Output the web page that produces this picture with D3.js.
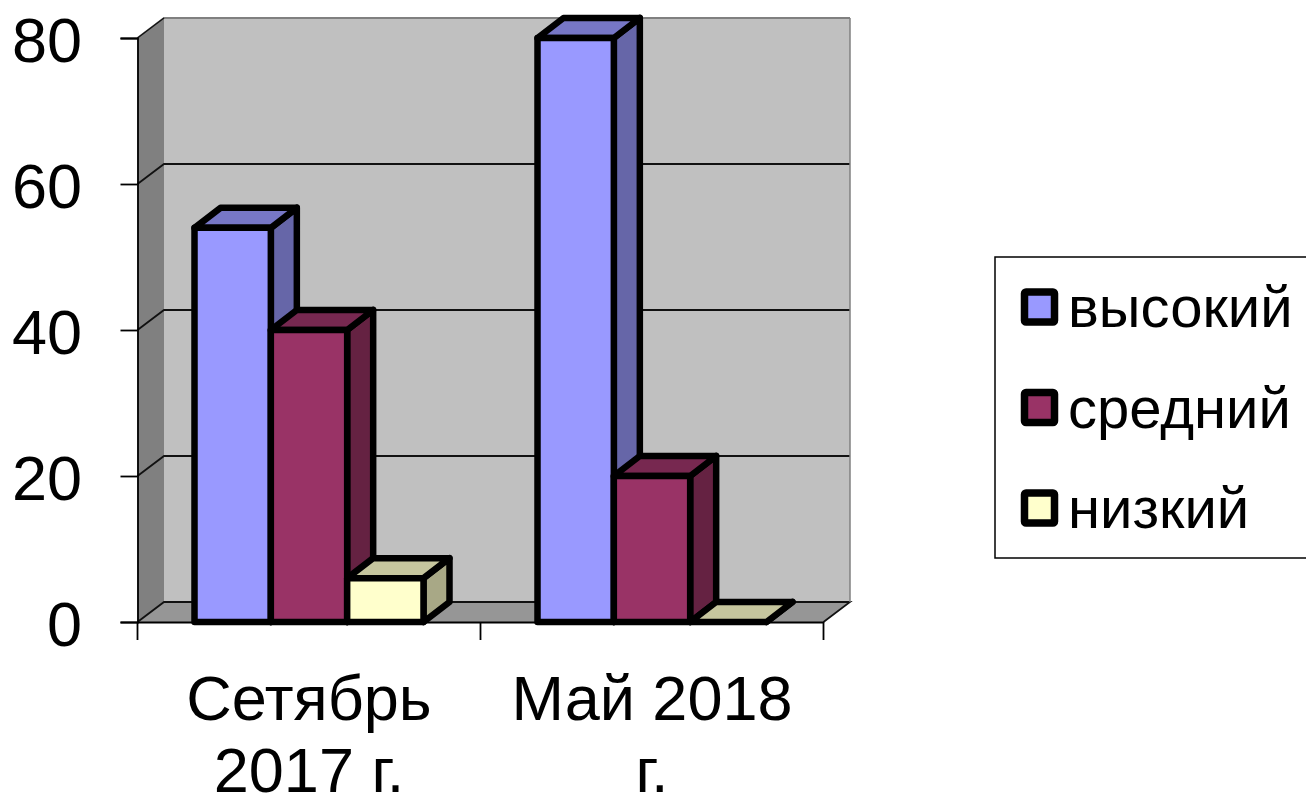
<!DOCTYPE html>
<html>
<head>
<meta charset="utf-8">
<script src="https://cdn.jsdelivr.net/npm/d3@7/dist/d3.min.js"></script>
<style>
html, body { margin:0; padding:0; background:#fff; overflow:hidden; }
svg { display:block; }
text { font-family:"Liberation Sans", Arial, sans-serif; fill:#000; }
</style>
</head>
<body>
<svg id="chart" width="1306" height="796"></svg>
<script>
const categories = ["Сетябрь 2017 г.", "Май 2018 г."];
const category_lines = [["Сетябрь", "2017 г."], ["Май 2018", "г."]];
const series_names = ["высокий", "средний", "низкий"];
const high_values = [54, 80];
const mid_values = [40, 20];
const low_values = [6, 0];
const y_ticks = [0, 20, 40, 60, 80];
const series_values = [high_values, mid_values, low_values];

const front_colors = ["#9999FF", "#993366", "#FFFFCC"];
const top_colors = ["#7777C6", "#772850", "#C6C69E"];
const side_colors = ["#6666A8", "#652242", "#A8A886"];

let svg = d3.select("#chart");

// front plane of the plot, the walls are offset from it by depth
let left = 137.5, right = 823.5, bottom = 622, top_y = 38;
let depthX = 26.5, depthY = -20;
let barDepthX = 26, barDepthY = -20;

let y = d3.scaleLinear().domain([0, 80]).range([bottom, top_y]);
let x0 = d3.scaleBand().domain(categories).range([left, right]);
// the group gap is 57px on each side of a 343px band
let x1 = d3.scaleBand().domain(series_names)
    .range([57, x0.bandwidth() - 57]);

function poly( pts, fill, stroke, width ){
    return svg.append("path")
        .attr("d", d3.line()(pts) + "Z")
        .attr("fill", fill)
        .attr("stroke", stroke || "none")
        .attr("stroke-width", width || 0)
        .attr("stroke-linejoin", "round");
}

// walls and floor
poly([[left+depthX, top_y+depthY], [right+depthX, top_y+depthY],
      [right+depthX, bottom+depthY], [left+depthX, bottom+depthY]], "#C0C0C0");
poly([[left, top_y], [left+depthX, top_y+depthY],
      [left+depthX, bottom+depthY], [left, bottom]], "#808080");
poly([[left, bottom], [left+depthX, bottom+depthY],
      [right+depthX, bottom+depthY], [right, bottom]], "#969696");

// gridlines run over the side wall and along the back wall
y_ticks.forEach( function(t){
    let pts = [[left, y(t)], [left+depthX, y(t)+depthY], [right+depthX, y(t)+depthY]];
    if( t == 0 ) pts.push([right, y(t)]);
    svg.append("path")
        .attr("d", d3.line()(pts))
        .attr("fill", "none")
        .attr("stroke", t == 80 ? "#808080" : "#111")
        .attr("stroke-width", 1.8);
});
svg.append("path")
    .attr("d", d3.line()([[right+depthX, top_y+depthY], [right+depthX, bottom+depthY]]))
    .attr("stroke", "#808080").attr("stroke-width", 1.5).attr("fill", "none");
svg.append("path")
    .attr("d", d3.line()([[left, top_y], [left+depthX, top_y+depthY]]))
    .attr("stroke", "#111").attr("stroke-width", 1.5).attr("fill", "none");

// axes
let yAxis = svg.append("g")
    .attr("transform", "translate(" + left + ",0)")
    .call(d3.axisLeft(y).tickValues(y_ticks).tickSize(17).tickPadding(40));
let xAxis = svg.append("g")
    .attr("transform", "translate(0," + bottom + ")")
    .call(d3.axisBottom(x0).tickValues([]).tickSizeOuter(0));
xAxis.select(".domain").attr("stroke", "#000").attr("stroke-width", 1.8);
yAxis.select(".domain").attr("stroke", "#000").attr("stroke-width", 1.8);
yAxis.selectAll("line").attr("stroke", "#000").attr("stroke-width", 1.8);
yAxis.selectAll("text")
    .style("font-family", "'Liberation Sans', Arial, sans-serif")
    .style("font-size", "63px")
    .attr("x", -55.5)
    .attr("dy", "0.38em");

// category tick marks sit on the band edges
let edges = categories.map(c => x0(c)).concat([right]);
svg.append("g").selectAll("line").data(edges).enter().append("line")
    .attr("x1", d => d).attr("x2", d => d)
    .attr("y1", bottom).attr("y2", bottom + 18)
    .attr("stroke", "#000").attr("stroke-width", 1.8);

// category labels
categories.forEach( function(c, i){
    let cx = x0(c) + x0.bandwidth()/2;
    category_lines[i].forEach( function(l, j){
        svg.append("text")
            .attr("x", cx).attr("y", 719.5 + j*72.5)
            .attr("text-anchor", "middle")
            .style("font-size", "63px")
            .text(l);
    });
});

// bars
let barStroke = 6.5;
categories.forEach( function(c){
    series_names.forEach( function(s, k){
        let v = series_values[k][categories.indexOf(c)];
        let xa = x0(c) + x1(s), xb = xa + x1.bandwidth();
        let ya = y(v), yb = y(0);
        poly([[xb, ya], [xb+barDepthX, ya+barDepthY], [xb+barDepthX, yb+barDepthY], [xb, yb]],
             side_colors[k], "#000", barStroke);
        poly([[xa, ya], [xa+barDepthX, ya+barDepthY], [xb+barDepthX, ya+barDepthY], [xb, ya]],
             top_colors[k], "#000", barStroke);
        if( v > 0 ){
            poly([[xa, ya], [xb, ya], [xb, yb], [xa, yb]], front_colors[k], "#000", barStroke);
        }
    });
});

// legend
svg.append("rect")
    .attr("x", 995).attr("y", 257).attr("width", 330).attr("height", 301)
    .attr("fill", "#fff").attr("stroke", "#000").attr("stroke-width", 1.5);
series_names.forEach( function(s, k){
    let cy = 307 + k*100.5;
    svg.append("rect")
        .attr("x", 1024.5).attr("y", cy - 15).attr("width", 30).attr("height", 30)
        .attr("rx", 1.5)
        .attr("fill", front_colors[k]).attr("stroke", "#000").attr("stroke-width", 7.5);
    svg.append("text")
        .attr("x", 1068).attr("y", cy + 20)
        .style("font-size", "58px")
        .text(s);
});
</script>
</body>
</html>
